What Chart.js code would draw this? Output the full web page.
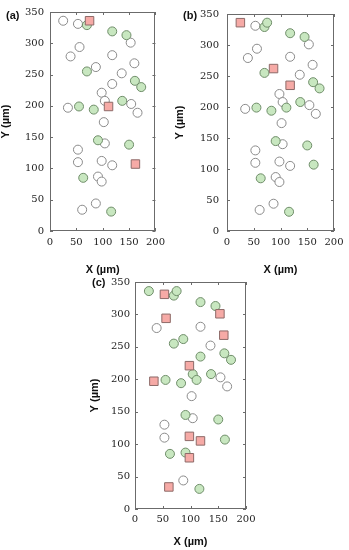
<!DOCTYPE html>
<html>
<head>
<meta charset="utf-8">
<script src="https://cdn.jsdelivr.net/npm/chart.js@4.4.0/dist/chart.umd.min.js"></script>
<style>
  html, body { margin: 0; padding: 0; background: #fff; }
  body { width: 349px; height: 550px; position: relative; overflow: hidden; }
  canvas { position: absolute; }
</style>
</head>
<body>
<canvas id="panelA" width="170" height="275" style="left:0px;top:0px"></canvas>
<canvas id="panelB" width="175" height="275" style="left:174px;top:0px"></canvas>
<canvas id="panelC" width="172" height="280" style="left:89px;top:270px"></canvas>
<script>
// point positions (same spots in every panel), in µm
const xVals = [25, 53, 70, 75, 118, 145, 153, 56, 39, 118, 160, 87, 70, 136, 118, 161, 173, 98, 104, 137, 154,
  166, 34, 55, 83, 111, 102, 91, 104, 150, 53, 53, 98, 118, 162, 63, 91, 98, 87, 61, 116];
const yVals = [336, 331, 329, 336, 319, 313, 301, 294, 279, 281, 268, 262, 255, 252, 235, 240, 230, 221, 208, 208, 203,
  189, 197, 199, 194, 199, 174, 145, 140, 138, 130, 110, 112, 105, 107, 85, 87, 79, 44, 34, 31];

// marker type per point: o = open circle, g = green circle, r = red square
const typesA = 'oogrggoooooogooggoogooogg' + 'rogogoooorgoooog';
const typesB = 'roggggooooorgorggoogoooggg' + 'ogogoooogg' + 'oooog';
const typesC = 'grggggrroorggogggrggoorggg' + 'ogogoorrggg' + 'rorg';

const xTicks = [0, 50, 100, 150, 200];
const yTicks = [0, 50, 100, 150, 200, 250, 300, 350];

const tickFont = { family: 'DejaVu Serif', size: 10 };
const titleFont = { family: 'Liberation Sans', size: 11, weight: 'bold', lineHeight: 1 };

// frame with inward ticks on all four sides
const framePlugin = {
  id: 'frame',
  afterDraw(chart, args, opts) {
    const { ctx, chartArea: a, scales } = chart;
    ctx.save();
    ctx.strokeStyle = '#6b6b6b';
    ctx.lineWidth = 1;
    ctx.strokeRect(Math.round(a.left) + 0.5, Math.round(a.top) + 0.5,
      Math.round(a.right - a.left) - 1, Math.round(a.bottom - a.top) - 1);
    ctx.beginPath();
    xTicks.forEach(v => {
      const px = Math.round(scales.x.getPixelForValue(v)) + 0.5;
      ctx.moveTo(px, a.bottom); ctx.lineTo(px, a.bottom - 3);
      ctx.moveTo(px, a.top); ctx.lineTo(px, a.top + 3);
    });
    yTicks.forEach(v => {
      const py = Math.round(scales.y.getPixelForValue(v)) + 0.5;
      ctx.moveTo(a.left, py); ctx.lineTo(a.left + 3, py);
      ctx.moveTo(a.right, py); ctx.lineTo(a.right - 3, py);
    });
    ctx.stroke();
    // panel letter
    ctx.fillStyle = '#111';
    ctx.font = 'bold 11px "Liberation Sans", Arial, sans-serif';
    ctx.textAlign = 'left';
    ctx.textBaseline = 'middle';
    ctx.fillText(opts.letter, opts.lx, opts.ly);
    ctx.restore();
  }
};

function pick(types, code) {
  const pts = [];
  types.split('').forEach((t, i) => {
    if (t === code) pts.push({ x: xVals[i], y: yVals[i] });
  });
  return pts;
}

function makePanel(id, types, cfg) {
  const canvas = document.getElementById(id);
  new Chart(canvas.getContext('2d'), {
    type: 'scatter',
    data: {
      datasets: [
        // first dataset is drawn on top
        {
          label: 'square',
          data: pick(types, 'r'),
          pointStyle: 'rect',
          pointRadius: 6,
          backgroundColor: '#f6aaa6',
          borderColor: '#8d6a68',
          borderWidth: 1
        },
        {
          label: 'green',
          data: pick(types, 'g'),
          pointStyle: 'circle',
          pointRadius: 4.5,
          backgroundColor: '#c8e7c0',
          borderColor: '#6f8d69',
          borderWidth: 1
        },
        {
          label: 'open',
          data: pick(types, 'o'),
          pointStyle: 'circle',
          pointRadius: 4.5,
          backgroundColor: '#ffffff',
          borderColor: '#8a8a8a',
          borderWidth: 1
        }
      ]
    },
    options: {
      responsive: false,
      animation: false,
      events: [],
      layout: { padding: { top: cfg.padTop, right: cfg.padRight, left: 0, bottom: 0 } },
      plugins: {
        legend: { display: false },
        tooltip: { enabled: false },
        frame: { letter: cfg.letter, lx: cfg.lx, ly: cfg.ly }
      },
      scales: {
        x: {
          type: 'linear',
          min: 0, max: 200,
          afterBuildTicks: s => { s.ticks = xTicks.map(v => ({ value: v })); },
          afterFit: s => { s.height = cfg.xHeight; },
          grid: { display: false, drawTicks: false },
          border: { display: false },
          ticks: { font: tickFont, color: '#222', padding: cfg.xPad, maxRotation: 0 },
          title: { display: true, text: 'X (µm)', font: titleFont, color: '#111', padding: { top: 0, bottom: cfg.xTitlePad } }
        },
        y: {
          type: 'linear',
          min: 0, max: 350,
          afterBuildTicks: s => { s.ticks = yTicks.map(v => ({ value: v })); },
          afterFit: s => { s.width = cfg.yWidth; },
          grid: { display: false, drawTicks: false },
          border: { display: false },
          ticks: { font: tickFont, color: '#222', padding: cfg.yPad },
          title: { display: true, text: 'Y (µm)', font: titleFont, color: '#111', padding: { top: 0, bottom: 0 } }
        }
      }
    },
    plugins: [framePlugin]
  });
}

makePanel('panelA', typesA, {
  padTop: 10, padRight: 13, xHeight: 44, yWidth: 50, xPad: 5, yPad: 6, xTitlePad: 0,
  letter: '(a)', lx: 6, ly: 16
});
makePanel('panelB', typesB, {
  padTop: 10, padRight: 15, xHeight: 44, yWidth: 53, xPad: 5, yPad: 8, xTitlePad: 0,
  letter: '(b)', lx: 9, ly: 16
});
makePanel('panelC', typesC, {
  padTop: 12, padRight: 15, xHeight: 41, yWidth: 46, xPad: 4, yPad: 5, xTitlePad: 3,
  letter: '(c)', lx: 3, ly: 13
});
</script>
</body>
</html>
